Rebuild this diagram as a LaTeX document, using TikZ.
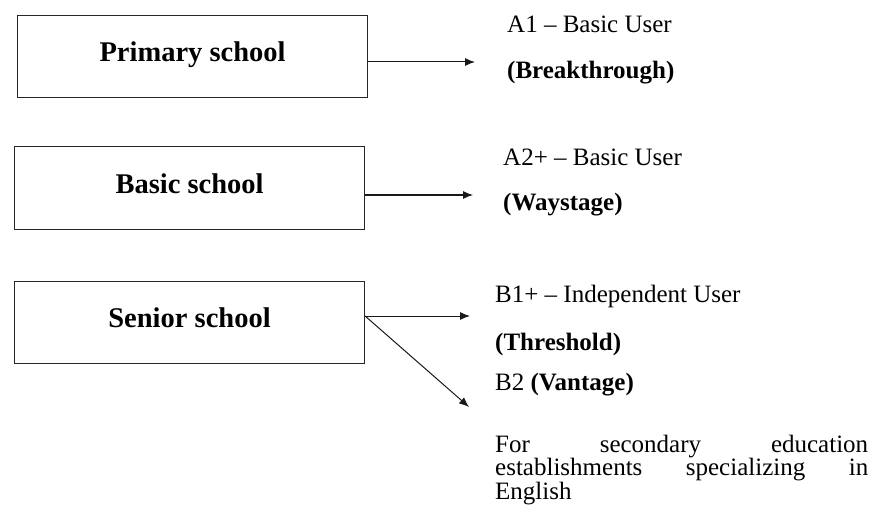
\documentclass[tikz,border=0pt]{standalone}
\usepackage{fontspec}
\setmainfont{Liberation Serif}
\usetikzlibrary{arrows.meta}
\begin{document}
\begin{tikzpicture}[x=1pt,y=-1pt,
  schoolbox/.style={draw=black!85, line width=1.1pt, inner sep=0pt,
    minimum width=350pt, text height=46pt, text depth=36pt,
    font=\fontsize{28.5}{32}\selectfont\bfseries, anchor=north west},
  level/.style={inner sep=0pt, anchor=base west, font=\fontsize{25}{28}\selectfont},
  link/.style={draw=black!90, line width=1pt, -{Latex[length=10pt,width=8pt]}}]
\useasboundingbox (0,0) rectangle (872,505);

% school boxes
\node[schoolbox] (primary) at (17,15) {Primary school};
\node[schoolbox, text height=47pt] (basic) at (14,146) {Basic school};
\node[schoolbox] (senior) at (14,281) {Senior school};

% level descriptions
\node[level] (a1) at (507,33) {A1 -- Basic User};
\node[level] (a1b) at (507,79) {\bfseries (Breakthrough)};
\node[level] (a2) at (503,166) {A2+ -- Basic User};
\node[level] (a2b) at (503,211) {\bfseries (Waystage)};
\node[level] (b1) at (495,302) {B1+ -- Independent User};
\node[level] (b1b) at (495,350) {\bfseries (Threshold)};
\node[level] (b2) at (495,390) {B2 \textbf{(Vantage)}};
\node[level] (note) at (495,452) {\parbox[t]{373pt}{\fontsize{25}{23.5}\selectfont
  For\hfill secondary\hfill education\\
  establishments\hfill specializing\hfill in\\
  English}};

% arrow ends
\coordinate (pend) at (475,62);
\coordinate (bend) at (473,195);
\coordinate (send) at (470,316);
\coordinate (dend) at (469,407);

\draw[link] (primary.east |- pend) -- (pend);
\draw[link] (basic.east |- bend) -- (bend);
\draw[link] (senior.east |- send) -- (send);
\draw[link] (senior.east |- send) -- (dend);
\end{tikzpicture}
\end{document}
